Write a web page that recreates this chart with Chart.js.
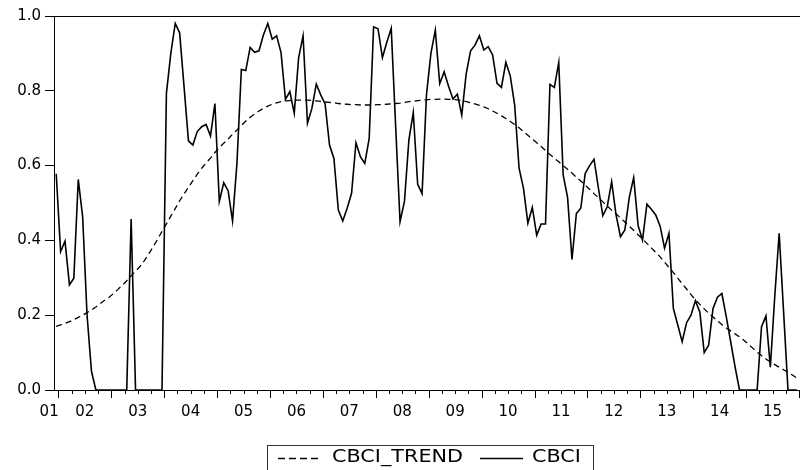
<!DOCTYPE html>
<html>
<head>
<meta charset="utf-8">
<script src="https://cdn.jsdelivr.net/npm/chart.js@4.4.0/dist/chart.umd.min.js"></script>
<style>
  html, body { margin: 0; padding: 0; background: #fff; }
</style>
</head>
<body>
<canvas id="cbciChart" width="800" height="470"></canvas>
<script>
// monthly series, first obs 2001M12, last obs 2015M12 (index 0..168)
const cbci = [
  0.578, 0.370, 0.398, 0.281, 0.299, 0.563, 0.463, 0.200, 0.050, 0,
  0, 0, 0, 0, 0, 0, 0, 0.457, 0, 0,
  0, 0, 0, 0, 0, 0.793, 0.900, 0.980, 0.955, 0.811,
  0.666, 0.655, 0.691, 0.704, 0.710, 0.679, 0.766, 0.504, 0.554, 0.533,
  0.452, 0.606, 0.857, 0.854, 0.916, 0.903, 0.907, 0.949, 0.980, 0.938,
  0.947, 0.902, 0.777, 0.798, 0.740, 0.889, 0.947, 0.713, 0.753, 0.818,
  0.789, 0.765, 0.655, 0.619, 0.481, 0.452, 0.486, 0.526, 0.661, 0.624,
  0.606, 0.673, 0.971, 0.966, 0.889, 0.930, 0.967, 0.705, 0.450, 0.504,
  0.668, 0.742, 0.550, 0.525, 0.790, 0.900, 0.962, 0.819, 0.851, 0.812,
  0.778, 0.791, 0.735, 0.845, 0.907, 0.922, 0.947, 0.909, 0.918, 0.896,
  0.820, 0.809, 0.876, 0.840, 0.762, 0.593, 0.539, 0.446, 0.488, 0.414,
  0.444, 0.444, 0.817, 0.809, 0.876, 0.575, 0.515, 0.349, 0.472, 0.486,
  0.579, 0.600, 0.617, 0.540, 0.466, 0.490, 0.557, 0.468, 0.410, 0.428,
  0.515, 0.568, 0.440, 0.401, 0.497, 0.483, 0.468, 0.438, 0.379, 0.419,
  0.218, 0.174, 0.129, 0.180, 0.200, 0.239, 0.209, 0.100, 0.120, 0.218,
  0.248, 0.258, 0.196, 0.129, 0.062, 0, 0, 0, 0, 0,
  0.169, 0.198, 0.061, 0.250, 0.419, 0.210, 0, 0, 0
];

const cbciTrend = [
  0.170, 0.174, 0.178, 0.183, 0.188, 0.194, 0.200, 0.207, 0.214, 0.222,
  0.231, 0.240, 0.248, 0.258, 0.269, 0.280, 0.292, 0.305, 0.318, 0.330,
  0.346, 0.364, 0.383, 0.403, 0.424, 0.444, 0.465, 0.485, 0.506, 0.524,
  0.542, 0.560, 0.577, 0.593, 0.607, 0.620, 0.635, 0.648, 0.660, 0.671,
  0.684, 0.695, 0.707, 0.719, 0.729, 0.738, 0.746, 0.753, 0.759, 0.764,
  0.768, 0.771, 0.773, 0.774, 0.775, 0.775, 0.775, 0.775, 0.774, 0.773,
  0.772, 0.770, 0.769, 0.768, 0.766, 0.765, 0.764, 0.763, 0.763, 0.762,
  0.762, 0.762, 0.762, 0.763, 0.763, 0.764, 0.765, 0.766, 0.767, 0.769,
  0.771, 0.772, 0.774, 0.775, 0.776, 0.777, 0.777, 0.778, 0.778, 0.777,
  0.777, 0.776, 0.774, 0.771, 0.768, 0.765, 0.761, 0.757, 0.752, 0.746,
  0.740, 0.733, 0.726, 0.718, 0.710, 0.701, 0.691, 0.681, 0.671, 0.661,
  0.651, 0.640, 0.630, 0.620, 0.610, 0.600, 0.590, 0.580, 0.569, 0.559,
  0.548, 0.537, 0.525, 0.514, 0.503, 0.492, 0.481, 0.471, 0.460, 0.449,
  0.438, 0.427, 0.415, 0.404, 0.392, 0.380, 0.368, 0.356, 0.342, 0.328,
  0.314, 0.299, 0.284, 0.270, 0.255, 0.241, 0.229, 0.217, 0.205, 0.195,
  0.185, 0.175, 0.166, 0.158, 0.150, 0.142, 0.133, 0.123, 0.112, 0.101,
  0.092, 0.083, 0.075, 0.068, 0.061, 0.054, 0.047, 0.040, 0.032
];

const yearLabels = ['01', '02', '03', '04', '05', '06', '07', '08', '09', '10', '11', '12', '13', '14', '15'];
const yTicks = [0, 0.2, 0.4, 0.6, 0.8, 1.0];

const axisFont = { family: 'DejaVu Sans', size: 15 };

// EViews-like extras: quarter tick marks, top frame line and boxed legend
const evPlugin = {
  id: 'evPlugin',
  afterDraw(chart) {
    const { ctx, chartArea: a, scales: { x } } = chart;
    ctx.save();
    ctx.strokeStyle = '#000';
    ctx.lineWidth = 1;
    ctx.setLineDash([]);
    ctx.beginPath();
    ctx.moveTo(a.left, Math.round(a.top) + 0.5);
    ctx.lineTo(800, Math.round(a.top) + 0.5);
    // tick marks sit between observations, every quarter; longer ones at year starts
    for (let q = 0; q <= 56; q++) {
      const px = Math.round(x.getPixelForValue(0.5 + q * 3)) + 0.5;
      const len = q % 4 === 0 ? 8 : 4;
      ctx.moveTo(px, a.bottom);
      ctx.lineTo(px, a.bottom + len);
    }
    ctx.stroke();

    // legend box
    ctx.strokeStyle = '#333';
    ctx.strokeRect(267.5, 445.5, 326, 40);
    const ly = 458;
    const items = [
      { ds: chart.data.datasets[0], x0: 278, len: 40, tx: 332 },
      { ds: chart.data.datasets[1], x0: 480, len: 43, tx: 532 }
    ];
    items.forEach(it => {
      ctx.strokeStyle = '#000';
      ctx.lineWidth = 1.3;
      ctx.setLineDash(it.ds.borderDash && it.ds.borderDash.length ? [7, 4] : []);
      ctx.beginPath();
      ctx.moveTo(it.x0, ly + 0.5);
      ctx.lineTo(it.x0 + it.len, ly + 0.5);
      ctx.stroke();
      ctx.setLineDash([]);
      ctx.save();
      ctx.translate(it.tx, ly);
      ctx.scale(1.22, 1);
      ctx.fillStyle = '#000';
      ctx.font = '17px "DejaVu Sans"';
      ctx.textBaseline = 'middle';
      ctx.fillText(it.ds.label, 0, 0);
      ctx.restore();
    });
    ctx.restore();
  }
};

const ctx = document.getElementById('cbciChart').getContext('2d');
new Chart(ctx, {
  type: 'line',
  data: {
    datasets: [
      {
        label: 'CBCI_TREND',
        data: cbciTrend.map((v, i) => ({ x: i, y: v })),
        borderColor: '#000',
        borderWidth: 1.3,
        borderDash: [6, 4],
        pointRadius: 0,
        fill: false
      },
      {
        label: 'CBCI',
        data: cbci.map((v, i) => ({ x: i, y: v })),
        borderColor: '#000',
        borderWidth: 1.6,
        pointRadius: 0,
        fill: false
      }
    ]
  },
  options: {
    responsive: false,
    animation: false,
    devicePixelRatio: 1,
    layout: { padding: { top: 16, right: 1, left: 0, bottom: 0 } },
    plugins: {
      legend: { display: false },
      tooltip: { enabled: false }
    },
    elements: { line: { tension: 0 } },
    scales: {
      x: {
        type: 'linear',
        min: -0.5,
        max: cbci.length - 0.5,
        afterBuildTicks: scale => {
          // year label in the middle of each year; "01" squeezed at the left edge
          scale.ticks = yearLabels.map((lab, n) => ({ value: n === 0 ? -1.6 : 6.5 + 12 * (n - 1) }));
        },
        afterFit: scale => { scale.height = 80; },
        grid: { display: true, drawOnChartArea: false, drawTicks: false },
        border: { display: true, color: '#000', width: 1 },
        ticks: {
          autoSkip: false,
          maxRotation: 0,
          padding: 13,
          color: '#000',
          font: axisFont,
          callback: (v, idx) => yearLabels[idx]
        }
      },
      y: {
        min: 0,
        max: 1,
        afterBuildTicks: scale => { scale.ticks = yTicks.map(v => ({ value: v })); },
        afterFit: scale => { scale.width = 54; },
        grid: { drawOnChartArea: false, drawTicks: true, tickLength: 9, tickColor: '#000' },
        border: { display: true, color: '#000', width: 1 },
        ticks: {
          padding: 4,
          color: '#000',
          font: axisFont,
          callback: v => v.toFixed(1)
        }
      }
    }
  },
  plugins: [evPlugin]
});
</script>
</body>
</html>
